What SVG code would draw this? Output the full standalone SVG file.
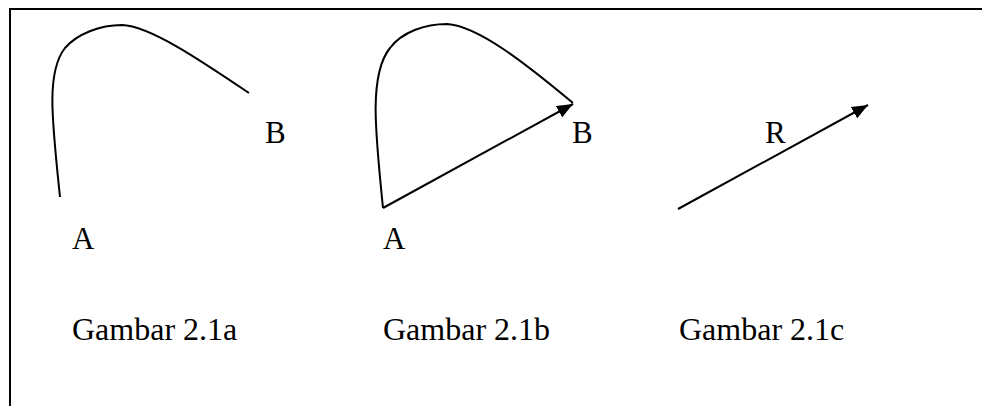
<svg xmlns="http://www.w3.org/2000/svg" width="982" height="406" viewBox="0 0 982 406">
<defs>
<style>
.ln{fill:none;stroke:#000;stroke-width:2}
.t{font-family:"Liberation Serif","Times New Roman",serif;font-size:31px;fill:#000}
.c{font-size:32px}
</style>
<marker id="ah" markerUnits="userSpaceOnUse" markerWidth="18" markerHeight="14" refX="16" refY="6.5" orient="auto">
<path d="M0,0 L16,6.5 L0,13 z" fill="#000"/>
</marker>
</defs>
<rect width="982" height="406" fill="#fff"/>
<g id="frame">
<path class="ln" d="M10,406 L10,9 L982,9"/>
</g>
<g id="fig-a">
<text class="t" x="72" y="249">A</text>
<text class="t" x="265" y="143">B</text>
<text class="t c" x="72" y="340">Gambar 2.1a</text>
</g>
<g id="fig-b">
<text class="t" x="383" y="249">A</text>
<text class="t" x="572" y="143">B</text>
<text class="t c" x="383" y="340">Gambar 2.1b</text>
</g>
<g id="fig-c">
<text class="t" x="765" y="143">R</text>
<text class="t c" x="679" y="340">Gambar 2.1c</text>
</g>
<g id="connectors">
<path class="ln" d="M60,197 C52,120 46,72 65,48 C77,34 100,25 122,25 C150,26 200,60 249,93"/>
<path class="ln" d="M383,208 C375,130 369,74 390,48 C402,32 425,24 447,24 C478,26 525,63 573,103"/>
<line class="ln" x1="383" y1="208" x2="573" y2="104" marker-end="url(#ah)"/>
<line class="ln" x1="678" y1="209" x2="868" y2="105" marker-end="url(#ah)"/>
</g>
</svg>
